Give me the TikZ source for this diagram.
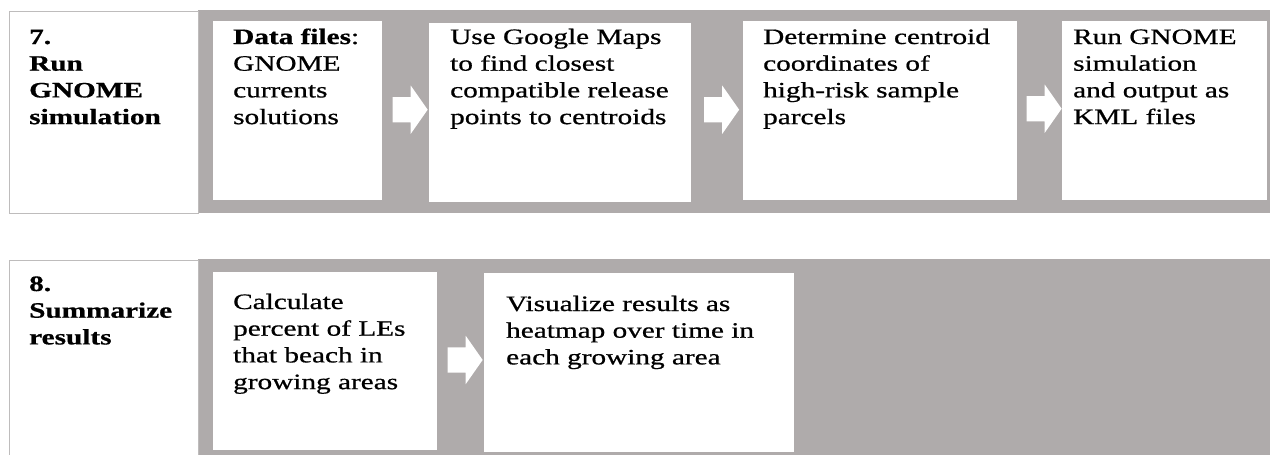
\documentclass[tikz,border=0pt]{standalone}
\usepackage{fontspec}
\setmainfont{Liberation Serif}[FakeBold=0.6]
\usepackage{graphicx}
\usetikzlibrary{shapes.arrows, calc}

\definecolor{bandgray}{RGB}{175,171,171}
\definecolor{edgegray}{RGB}{190,188,188}

% text of the boxes is set wide, as in the figure
\newcommand{\widetext}[1]{\scalebox{1.33}[1]{\begin{tabular}[t]{@{}l@{}}#1\end{tabular}}}

\tikzset{
  band/.style={fill=bandgray, draw=none},
  stepbox/.style={fill=white, draw=none, inner sep=0pt, anchor=north west},
  labelbox/.style={fill=white, draw=edgegray, line width=1.5pt, inner sep=0pt, anchor=north west},
  boxtext/.style={anchor=base west, inner sep=0pt, font=\fontsize{22}{26.7}\selectfont},
  blockarrow/.style={single arrow, fill=white, draw=none, inner xsep=0pt, inner ysep=12.5pt,
    minimum height=35pt, single arrow head extend=11.5pt,
    single arrow tip angle=110}
}

\begin{document}
\begin{tikzpicture}[x=1pt, y=-1pt]
  \clip (0,0) rectangle (1270,455);
  \fill[white] (0,0) rectangle (1270,455);
  % Gray bands
  \fill[band] (198,10) rectangle (1270,213);
  \fill[band] (198,259) rectangle (1270,470);
  % Label boxes
  \node[labelbox, minimum width=189pt, minimum height=202pt] (l7) at (8.75,10.75) {};
  \node[labelbox, minimum width=189pt, minimum height=220pt] (l8) at (8.75,259.75) {};
  % Step boxes
  \foreach \n/\x/\y/\w/\h in {b71/213/21/169/179, b72/429/23/262/179, b73/743/21/274/179,
      b74/1062/21/205/179, b81/213/272/224/178, b82/484/273/310/179}
    {\node[stepbox, minimum width=\w pt, minimum height=\h pt] (\n) at (\x,\y) {};}
  % Arrows between the steps
  \foreach \a/\b in {b71/b72, b72/b73, b73/b74, b81/b82}
    {\node[blockarrow] (arr-\a) at ($(\a.east)!0.5!(\b.west)+(0,-2)$) {};}
  % Texts
  \node[boxtext] (t7) at (29,44) {\widetext{\textbf{7.}\\\textbf{Run}\\\textbf{GNOME}\\\textbf{simulation}}};
  \node[boxtext] (t71) at (233,44) {\widetext{\textbf{Data files}:\\GNOME\\currents\\solutions}};
  \node[boxtext] (t72) at (450,44) {\widetext{Use Google Maps\\to find closest\\compatible release\\points to centroids}};
  \node[boxtext] (t73) at (763,44) {\widetext{Determine centroid\\coordinates of\\high-risk sample\\parcels}};
  \node[boxtext] (t74) at (1073,44) {\widetext{Run GNOME\\simulation\\and output as\\KML files}};
  \node[boxtext] (t8) at (29,291) {\widetext{\textbf{8.}\\\textbf{Summarize}\\\textbf{results}}};
  \node[boxtext] (t81) at (233,309) {\widetext{Calculate\\percent of LEs\\that beach in\\growing areas}};
  \node[boxtext] (t82) at (506,311) {\widetext{Visualize results as\\heatmap over time in\\each growing area}};
\end{tikzpicture}
\end{document}
